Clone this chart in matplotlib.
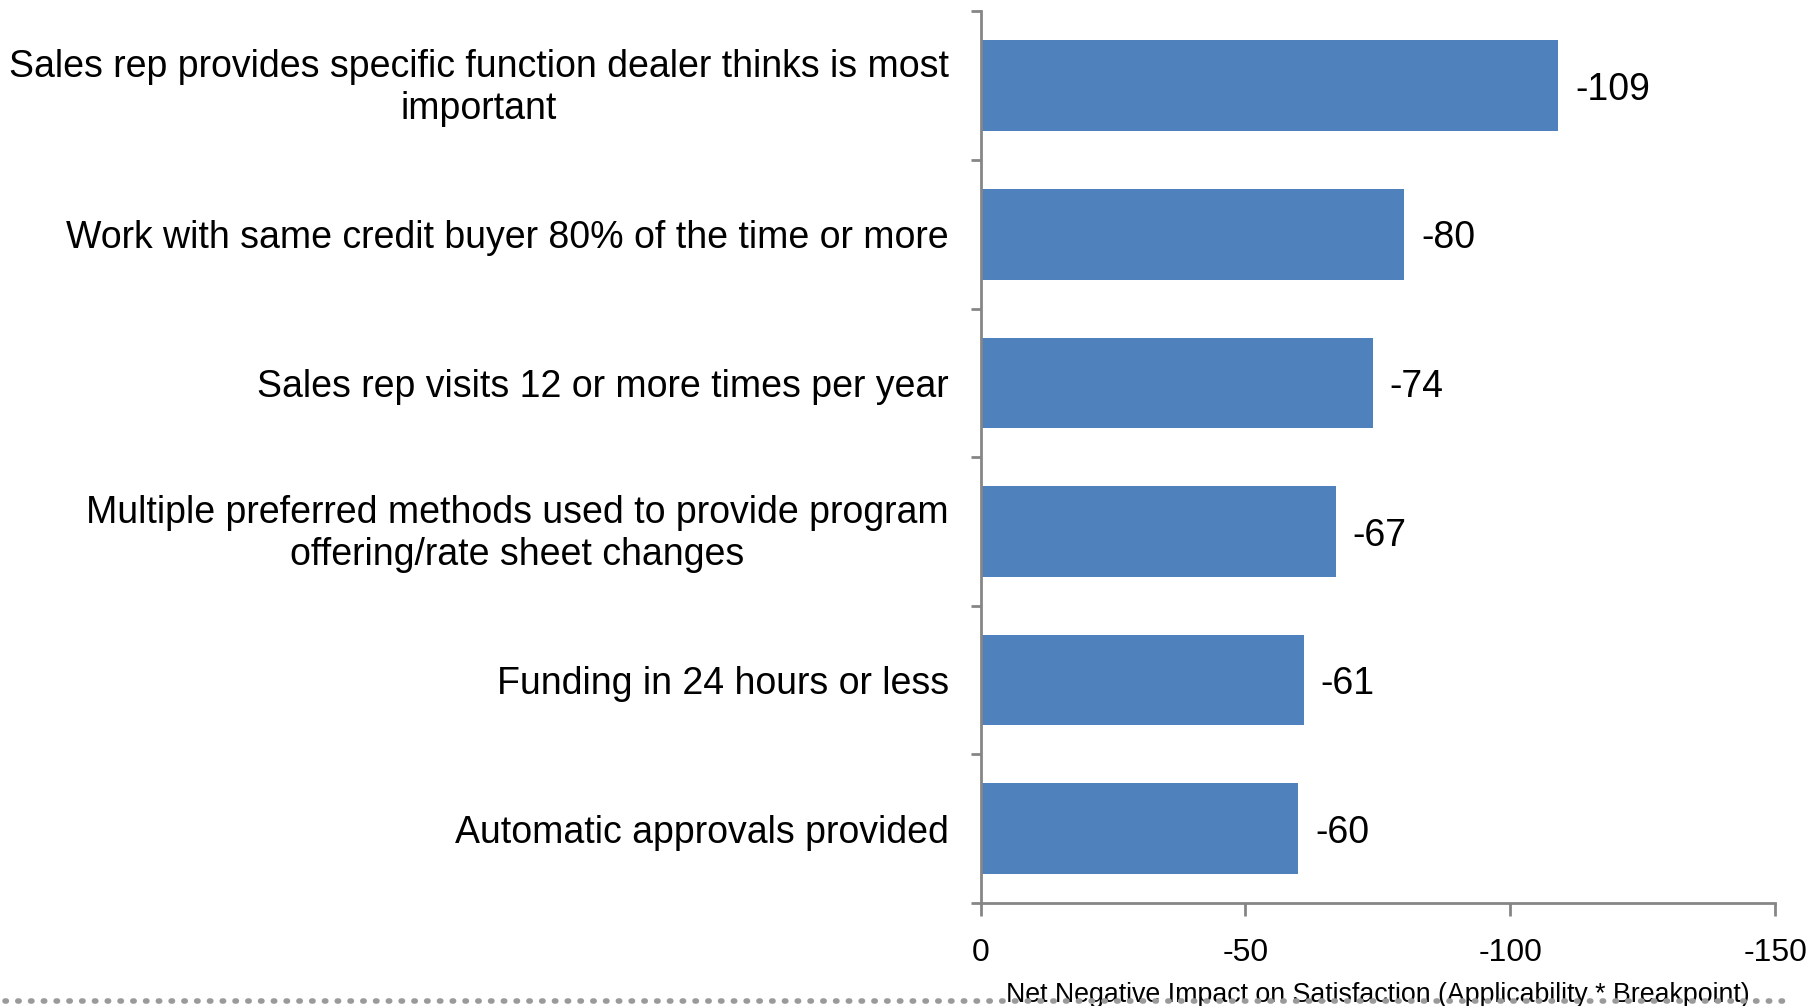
import matplotlib as mpl
import matplotlib.pyplot as plt
import matplotlib.transforms as mtransforms
import numpy as np

mpl.use("Agg")

plt.rcParams["font.family"] = ["Liberation Sans", "DejaVu Sans"]

categories = [
    "Sales rep provides specific function dealer thinks is most\nimportant",
    "Work with same credit buyer 80% of the time or more",
    "Sales rep visits 12 or more times per year",
    "Multiple preferred methods used to provide program\noffering/rate sheet changes",
    "Funding in 24 hours or less",
    "Automatic approvals provided",
]
impact = [-109, -80, -74, -67, -61, -60]
xticks = [0, -50, -100, -150]

bar_color = "#4F81BD"
axis_color = "#868686"

fig = plt.figure(figsize=(18.11, 10.06), dpi=100)
ax = fig.add_axes([0.5415, 0.1024, 0.4387, 0.8862])

y = np.arange(len(categories))
ax.barh(y, impact, height=0.61, color=bar_color)

ax.set_xlim(0, -150)
ax.set_ylim(len(categories) - 0.5, -0.5)

for yi, v in zip(y, impact):
    ax.annotate(
        f"{v}", (v, yi), xytext=(17, -4), textcoords="offset pixels",
        ha="left", va="center", fontsize=27,
    )

ax.set_xticks(xticks)
ax.set_xticklabels([f"{t}" for t in xticks], fontsize=23)
ax.set_yticks(y)
ax.set_yticklabels(categories, fontsize=27, ha="right", multialignment="center",
                   linespacing=1.22)
ax.tick_params(axis="y", pad=23, length=0)
ax.tick_params(axis="x", pad=16, length=9, color=axis_color, width=2)

# two-line labels sit a touch higher
nudge = mtransforms.ScaledTranslation(0, 4.5 / 100, fig.dpi_scale_trans)
for lbl in ax.get_yticklabels():
    if "\n" in lbl.get_text():
        lbl.set_transform(lbl.get_transform() + nudge)

# y ticks sit between the categories, not on the bars
ax.set_yticks(np.arange(len(categories) + 1) - 0.5, minor=True)
ax.tick_params(axis="y", which="minor", length=7, color=axis_color, width=2)

for side in ["top", "right"]:
    ax.spines[side].set_visible(False)
for side in ["left", "bottom"]:
    ax.spines[side].set_color(axis_color)
    ax.spines[side].set_linewidth(2)

# dotted rule along the bottom of the slide
fig.add_artist(
    plt.Line2D([0.003, 0.985], [0.005, 0.005], transform=fig.transFigure,
               color="#9a9a9a", linewidth=4, linestyle=(0, (0.25, 2.05)),
               dash_capstyle="round")
)

ax.text(
    0.5, -0.103, "Net Negative Impact on Satisfaction (Applicability * Breakpoint)",
    transform=ax.transAxes, ha="center", va="center", fontsize=19.3,
    bbox=dict(facecolor="white", edgecolor="none", pad=1),
)

plt.savefig("out.png", dpi=100)
